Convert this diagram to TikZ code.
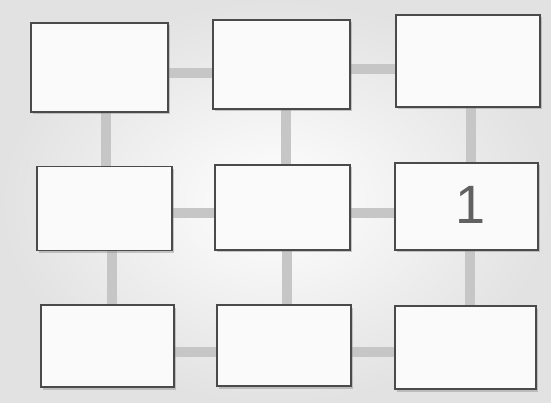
\documentclass[tikz,border=0pt]{standalone}
\usepackage{fontspec}
\setmainfont{Liberation Sans}
\usetikzlibrary{shadows}
\definecolor{paperedge}{HTML}{E2E2E2}
\definecolor{conn}{HTML}{C6C6C6}
\definecolor{frame}{HTML}{4A4A4A}
\definecolor{boxfill}{HTML}{FAFAFA}
\pgfdeclarelayer{paperlayer}
\pgfdeclarelayer{connlayer}
\pgfsetlayers{paperlayer,connlayer,main}
\begin{document}
\begin{tikzpicture}[x=1pt,y=-1pt,
  box/.style={draw=frame,line width=1.8pt,fill=boxfill,rectangle,inner sep=0pt,
    drop shadow={shadow xshift=2pt,shadow yshift=-2.5pt,fill=black!45,opacity=0.45}},
  connector/.style={draw=conn,line width=10pt}]
\begin{pgfonlayer}{paperlayer}
\shade[inner color=white,outer color=paperedge] (0,0) rectangle (551,403);
\end{pgfonlayer}
\useasboundingbox (0,0) rectangle (551,403);
% boxes
\node[box,minimum width=137pt,minimum height=89pt] (A) at (99.5,67.5) {};
\node[box,minimum width=137pt,minimum height=89pt] (B) at (281.5,64.5) {};
\node[box,minimum width=144pt,minimum height=92pt] (C) at (468,61) {};
\node[box,minimum width=135pt,minimum height=84pt] (D) at (104.5,208.5) {};
\node[box,minimum width=135pt,minimum height=85pt] (E) at (282.5,207.5) {};
\node[box,minimum width=143pt,minimum height=87pt] (F) at (466.5,206.5) {};
\node[box,minimum width=133pt,minimum height=82pt] (G) at (107.5,346) {};
\node[box,minimum width=134pt,minimum height=81pt] (H) at (284,345.5) {};
\node[box,minimum width=141pt,minimum height=83pt] (I) at (465.5,347.5) {};
\node[text=black!62,font=\fontsize{54}{54}\selectfont,inner sep=0pt] (one) at (470.5,205) {1};
% connectors
\begin{pgfonlayer}{connlayer}
\draw[connector] (A.east |- 0,73) -- (B.west |- 0,73);
\draw[connector] (B.east |- 0,69) -- (C.west |- 0,69);
\draw[connector] (D.east |- 0,213) -- (E.west |- 0,213);
\draw[connector] (E.east |- 0,213) -- (F.west |- 0,213);
\draw[connector] (G.east |- 0,352) -- (H.west |- 0,352);
\draw[connector] (H.east |- 0,352) -- (I.west |- 0,352);
\draw[connector] (A.south -| 106,0) -- (D.north -| 106,0);
\draw[connector] (B.south -| 286,0) -- (E.north -| 286,0);
\draw[connector] (C.south -| 471,0) -- (F.north -| 471,0);
\draw[connector] (D.south -| 112,0) -- (G.north -| 112,0);
\draw[connector] (E.south -| 287,0) -- (H.north -| 287,0);
\draw[connector] (F.south -| 470,0) -- (I.north -| 470,0);
\end{pgfonlayer}
\end{tikzpicture}
\end{document}
